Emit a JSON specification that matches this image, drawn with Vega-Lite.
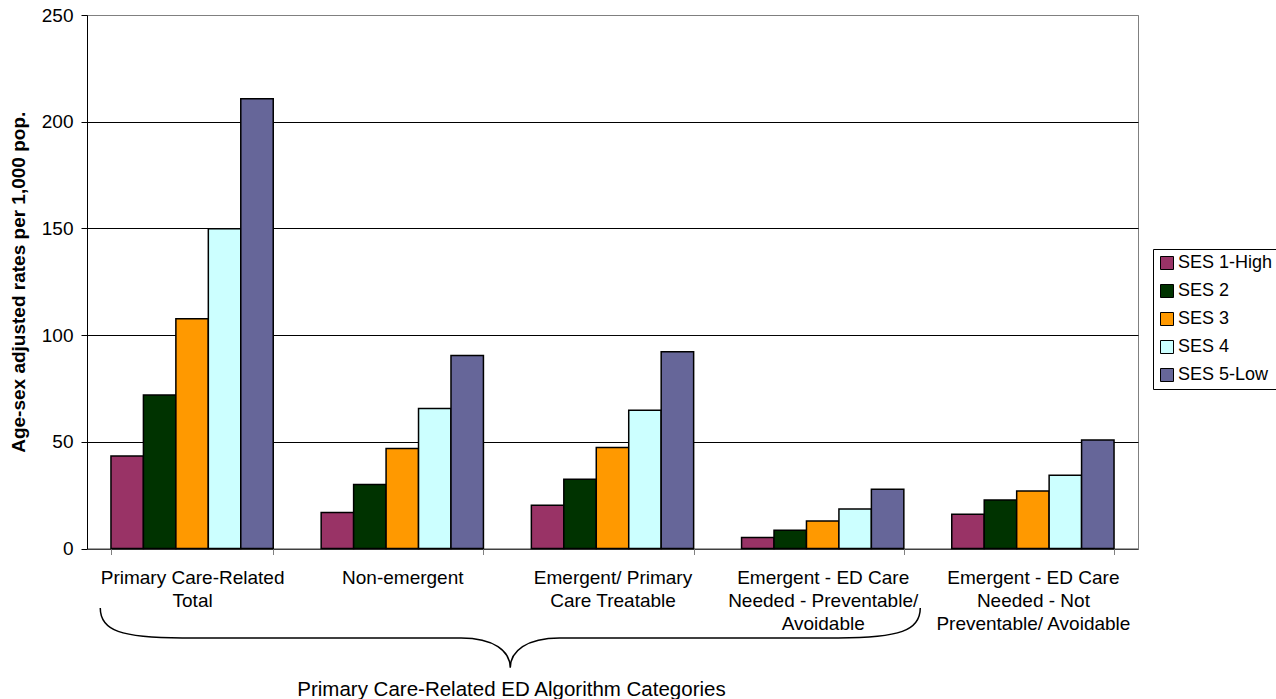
{
  "$schema": "https://vega.github.io/schema/vega-lite/v6.json",
  "width": 1051,
  "height": 533.5,
  "autosize": {"type": "none"},
  "padding": {"left": 87, "top": 15, "right": 138, "bottom": 151},
  "background": "white",
  "config": {
    "font": "Liberation Sans",
    "view": {"stroke": "#808080", "strokeWidth": 1}
  },
  "datasets": {
    "rates": [
      {"category": "Primary Care-Related Total", "ses": "SES 1-High", "rate": 43.4},
      {"category": "Primary Care-Related Total", "ses": "SES 2", "rate": 71.9},
      {"category": "Primary Care-Related Total", "ses": "SES 3", "rate": 107.7},
      {"category": "Primary Care-Related Total", "ses": "SES 4", "rate": 149.8},
      {"category": "Primary Care-Related Total", "ses": "SES 5-Low", "rate": 210.7},
      {"category": "Non-emergent", "ses": "SES 1-High", "rate": 16.9},
      {"category": "Non-emergent", "ses": "SES 2", "rate": 30.0},
      {"category": "Non-emergent", "ses": "SES 3", "rate": 46.9},
      {"category": "Non-emergent", "ses": "SES 4", "rate": 65.6},
      {"category": "Non-emergent", "ses": "SES 5-Low", "rate": 90.4},
      {"category": "Emergent/ Primary Care Treatable", "ses": "SES 1-High", "rate": 20.3},
      {"category": "Emergent/ Primary Care Treatable", "ses": "SES 2", "rate": 32.5},
      {"category": "Emergent/ Primary Care Treatable", "ses": "SES 3", "rate": 47.3},
      {"category": "Emergent/ Primary Care Treatable", "ses": "SES 4", "rate": 64.8},
      {"category": "Emergent/ Primary Care Treatable", "ses": "SES 5-Low", "rate": 92.2},
      {"category": "Emergent - ED Care Needed - Preventable/ Avoidable", "ses": "SES 1-High", "rate": 5.2},
      {"category": "Emergent - ED Care Needed - Preventable/ Avoidable", "ses": "SES 2", "rate": 8.5},
      {"category": "Emergent - ED Care Needed - Preventable/ Avoidable", "ses": "SES 3", "rate": 12.9},
      {"category": "Emergent - ED Care Needed - Preventable/ Avoidable", "ses": "SES 4", "rate": 18.5},
      {"category": "Emergent - ED Care Needed - Preventable/ Avoidable", "ses": "SES 5-Low", "rate": 27.8},
      {"category": "Emergent - ED Care Needed - Not Preventable/ Avoidable", "ses": "SES 1-High", "rate": 16.0},
      {"category": "Emergent - ED Care Needed - Not Preventable/ Avoidable", "ses": "SES 2", "rate": 22.7},
      {"category": "Emergent - ED Care Needed - Not Preventable/ Avoidable", "ses": "SES 3", "rate": 27.0},
      {"category": "Emergent - ED Care Needed - Not Preventable/ Avoidable", "ses": "SES 4", "rate": 34.3},
      {"category": "Emergent - ED Care Needed - Not Preventable/ Avoidable", "ses": "SES 5-Low", "rate": 50.8}
    ],
    "grouping": [
      {"category": "Emergent/ Primary Care Treatable", "label": "Primary Care-Related ED Algorithm Categories"}
    ]
  },
  "layer": [
    {
      "data": {"name": "rates"},
      "mark": {"type": "bar", "stroke": "black", "strokeWidth": 1.5},
      "encoding": {
        "x": {
          "field": "category",
          "type": "nominal",
          "scale": {
            "domain": [
              "Primary Care-Related Total",
              "Non-emergent",
              "Emergent/ Primary Care Treatable",
              "Emergent - ED Care Needed - Preventable/ Avoidable",
              "Emergent - ED Care Needed - Not Preventable/ Avoidable"
            ],
            "paddingInner": 0.228,
            "paddingOuter": 0.114
          },
          "axis": {
            "labelAngle": 0,
            "labelFontSize": 19,
            "labelLineHeight": 23,
            "labelPadding": 14,
            "labelColor": "black",
            "labelLimit": 0,
            "labelOverlap": false,
            "labelExpr": "datum.value == 'Primary Care-Related Total' ? ['Primary Care-Related', 'Total'] : datum.value == 'Emergent/ Primary Care Treatable' ? ['Emergent/ Primary', 'Care Treatable'] : datum.value == 'Emergent - ED Care Needed - Preventable/ Avoidable' ? ['Emergent - ED Care', 'Needed - Preventable/', 'Avoidable'] : datum.value == 'Emergent - ED Care Needed - Not Preventable/ Avoidable' ? ['Emergent - ED Care', 'Needed - Not', 'Preventable/ Avoidable'] : datum.label",
            "tickBand": "extent",
            "tickSize": 6,
            "tickColor": "#808080",
            "domainColor": "#808080",
            "title": "Primary Care-Related ED Algorithm Categories",
            "titleFontSize": 20.5,
            "titleFontWeight": "normal",
            "titleColor": "black",
            "titleX": 424,
            "titleY": 131,
            "titleAlign": "center"
          }
        },
        "xOffset": {
          "field": "ses",
          "type": "nominal",
          "sort": ["SES 1-High", "SES 2", "SES 3", "SES 4", "SES 5-Low"],
          "scale": {"paddingInner": 0, "paddingOuter": 0}
        },
        "y": {
          "field": "rate",
          "type": "quantitative",
          "scale": {"domain": [0, 250], "nice": false},
          "axis": {
            "values": [0, 50, 100, 150, 200, 250],
            "grid": true,
            "gridColor": {"condition": {"test": "datum.value === 250", "value": "#808080"}, "value": "black"},
            "gridOpacity": 1,
            "domainColor": "black",
            "tickColor": "black",
            "tickSize": 6,
            "labelFontSize": 19,
            "labelPadding": 8,
            "labelColor": "black",
            "title": "Age-sex adjusted rates per 1,000 pop.",
            "titleFontSize": 19,
            "titleFontWeight": "bold",
            "titleColor": "black",
            "titlePadding": 13
          }
        },
        "color": {
          "field": "ses",
          "type": "nominal",
          "scale": {
            "domain": ["SES 1-High", "SES 2", "SES 3", "SES 4", "SES 5-Low"],
            "range": ["#993366", "#003300", "#FF9900", "#CCFFFF", "#666699"]
          },
          "legend": {
            "title": null,
            "orient": "none",
            "legendX": 1066,
            "legendY": 234,
            "padding": 5,
            "strokeColor": "black",
            "fillColor": "white",
            "symbolType": "square",
            "symbolSize": 169,
            "symbolStrokeColor": "black",
            "symbolStrokeWidth": 1,
            "symbolOpacity": 1,
            "labelFontSize": 18,
            "labelColor": "black",
            "labelOffset": 2,
            "labelLimit": 0,
            "rowPadding": 10
          }
        }
      }
    },
    {
      "data": {"name": "grouping"},
      "mark": {
        "type": "point",
        "filled": false,
        "stroke": "black",
        "strokeWidth": 1.5,
        "opacity": 1,
        "clip": false,
        "size": 672400,
        "shape": "M -1 0.145 C -1 0.2 -0.95 0.218 -0.8 0.218 L -0.12 0.218 C -0.04 0.218 0 0.25 0 0.291 C 0 0.25 0.04 0.218 0.12 0.218 L 0.8 0.218 C 0.95 0.218 1 0.2 1 0.145"
      },
      "encoding": {
        "x": {"field": "category", "type": "nominal", "bandPosition": -0.13},
        "y": {"datum": 0}
      }
    }
  ]
}
